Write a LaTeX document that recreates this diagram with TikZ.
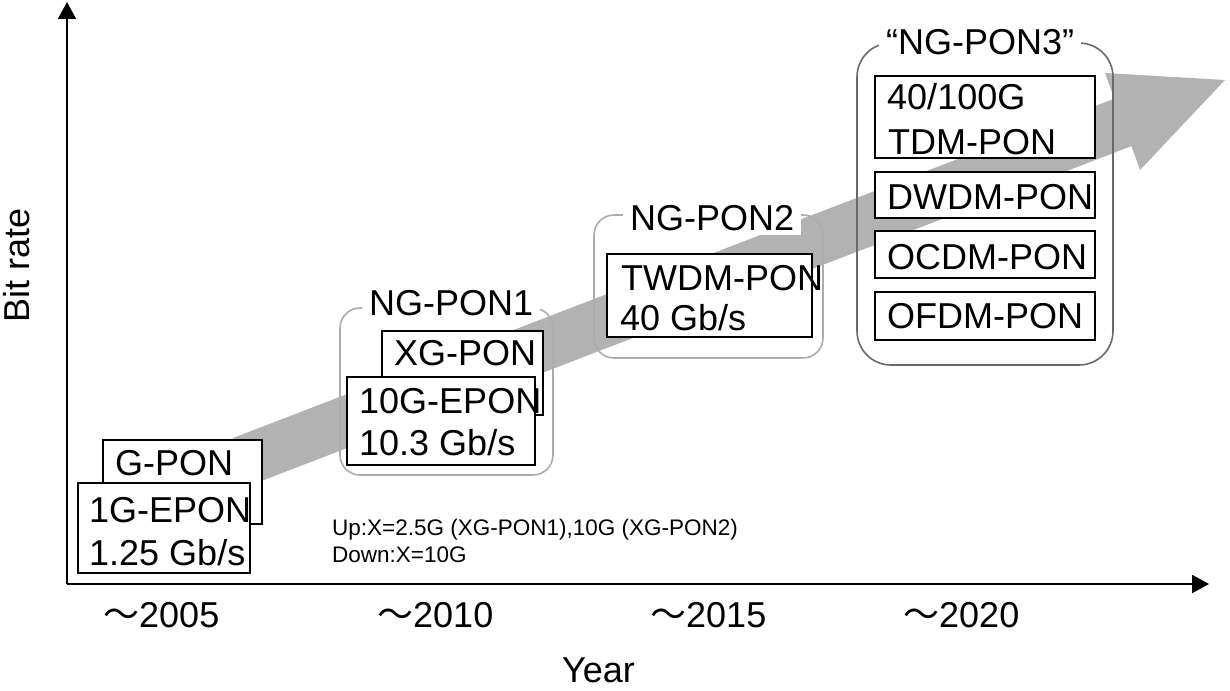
\documentclass[tikz,border=0pt]{standalone}
\usepackage{fontspec}
\setmainfont{Liberation Sans}
\newfontfamily\cjk{Noto Sans CJK JP}
\usetikzlibrary{arrows.meta,fit}
\definecolor{bandgray}{RGB}{178,178,178}
\definecolor{grplight}{RGB}{172,172,172}
\definecolor{grpdark}{RGB}{105,105,105}
\begin{document}
\begin{tikzpicture}[x=1pt,y=-1pt,
  font=\fontsize{36}{40}\selectfont,
  txt/.style={anchor=base west, inner sep=0pt},
  note/.style={anchor=base west, inner sep=0pt, font=\fontsize{22.5}{26}\selectfont},
  pbox/.style={draw=black, line width=2pt, fill=white, inner sep=0pt},
  grplt/.style={draw=grplight, line width=1.6pt, rounded corners=20pt, inner sep=0pt},
  grpdk/.style={draw=grpdark, line width=1.6pt, rounded corners=34pt, inner sep=0pt},
  glabel/.style={anchor=base west, fill=white, inner xsep=7pt, inner ysep=5pt},
  axis/.style={line width=2pt, -{Triangle[length=17pt,width=18pt]}}
]
\useasboundingbox (0,0) rectangle (1230,690);

% big grey trend arrow
\fill[bandgray] (233,438) -- (1114.3,98.7) -- (1105,73) -- (1225,80) -- (1140,170) -- (1131.4,146.1) -- (251.1,485.0) -- cycle;

% axes
\coordinate (O) at (67,584);
\coordinate (ytop) at (67,2);
\coordinate (xend) at (1209,584);
\draw[axis] (O) -- (ytop);
\draw[axis] (O) -- (xend);
\node[rotate=90, inner sep=0pt] (ylab) at (17,265) {Bit rate};
\node[txt] (xlab) at (562,682) {Year};

% year ticks
\node[txt] (y2005) at (103,627) {{\cjk ～}2005};
\node[txt] (y2010) at (377,627) {{\cjk ～}2010};
\node[txt] (y2015) at (650,627) {{\cjk ～}2015};
\node[txt] (y2020) at (903,627) {{\cjk ～}2020};

% group outlines
\node[grplt, fit={(340,308)(553,475)}] (g1) {};
\node[grplt, fit={(594,215)(823,358)}] (g2) {};
\node[grpdk, fit={(857,43)(1113,365)}] (g3) {};
\node[glabel] (g1lab) at (362,315) {NG-PON1};
\node[glabel] (g2lab) at (623,230) {NG-PON2};
\node[glabel] (g3lab) at (879,55) {“NG-PON3”};

% 2005 generation
\node[pbox, fit={(103,440)(262,524)}] (gpon) {};
\node[txt] (gpontx) at (115,475) {G-PON};
\node[pbox, fit={(78,483)(250,573)}] (epon) {};
\node[txt] (epontx) at (89,522) {1G-EPON};
\node[txt] (epontx2) at (89,565) {1.25 Gb/s};

% NG-PON1
\node[pbox, fit={(382,331)(543,415)}] (xgpon) {};
\node[txt] (xgpontx) at (394,365) {XG-PON};
\node[pbox, fit={(347,377)(535,465)}] (tenepon) {};
\node[txt] (tenepontx) at (359,413) {10G-EPON};
\node[txt] (tenepontx2) at (359,455) {10.3 Gb/s};

% NG-PON2
\node[pbox, fit={(607,254)(812,337)}] (twdm) {};
\node[txt] (twdmtx) at (621,290) {TWDM-PON};
\node[txt] (twdmtx2) at (620,330) {40 Gb/s};

% NG-PON3
\node[pbox, fit={(875,76)(1095,158)}] (tdm) {};
\node[txt] (tdmtx) at (887,110) {40/100G};
\node[txt] (tdmtx2) at (888,154) {TDM-PON};
\node[pbox, fit={(875,172)(1095,218)}] (dwdm) {};
\node[txt] (dwdmtx) at (887,209) {DWDM-PON};
\node[pbox, fit={(875,231)(1095,278)}] (ocdm) {};
\node[txt] (ocdmtx) at (887,269) {OCDM-PON};
\node[pbox, fit={(875,292)(1095,340)}] (ofdm) {};
\node[txt] (ofdmtx) at (887,328) {OFDM-PON};

% note
\node[note] (up) at (332,535) {Up:X=2.5G (XG-PON1),10G (XG-PON2)};
\node[note] (down) at (332,562) {Down:X=10G};
\end{tikzpicture}
\end{document}
